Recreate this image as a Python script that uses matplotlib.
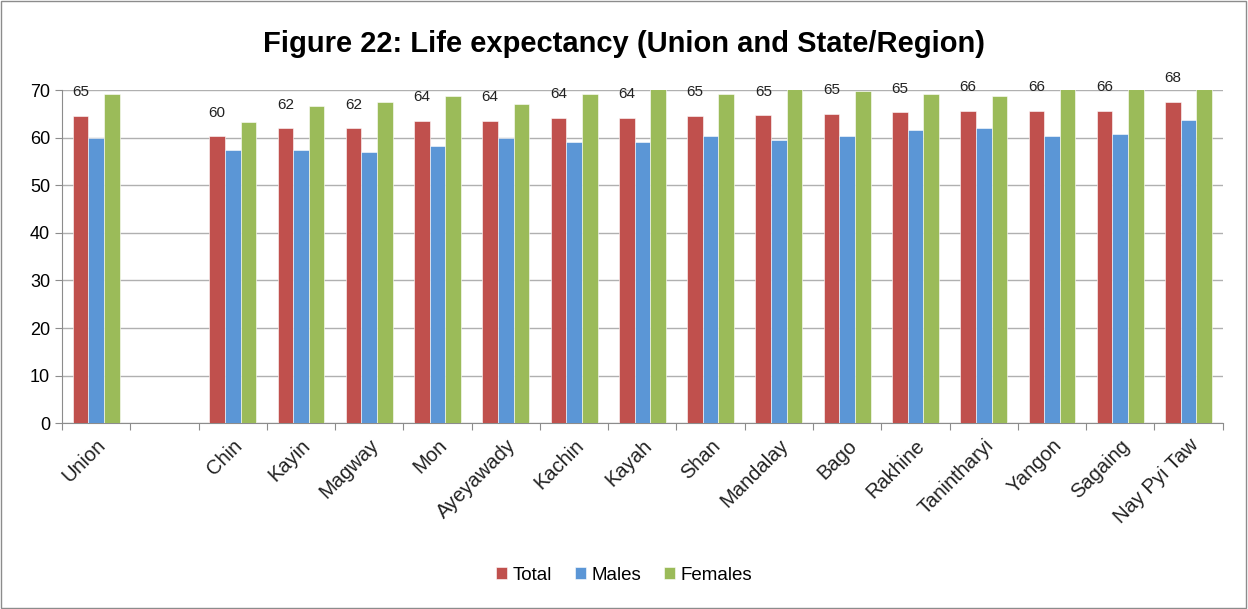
import matplotlib

matplotlib.use("Agg")
import matplotlib.pyplot as plt
import numpy as np
from matplotlib.patches import Rectangle
from matplotlib.transforms import ScaledTranslation

plt.rcParams["font.family"] = ["Liberation Sans", "DejaVu Sans"]

regions = ["Union", "", "Chin", "Kayin", "Magway", "Mon", "Ayeyawady", "Kachin", "Kayah",
           "Shan", "Mandalay", "Bago", "Rakhine", "Tanintharyi", "Yangon", "Sagaing", "Nay Pyi Taw"]
total = [64.6, np.nan, 60.3, 62.0, 62.0, 63.6, 63.6, 64.2, 64.2, 64.6, 64.7, 65.0, 65.3,
         65.6, 65.6, 65.6, 67.6]
males = [59.9, np.nan, 57.4, 57.4, 57.0, 58.3, 59.9, 59.1, 59.1, 60.4, 59.5, 60.4, 61.6,
         62.0, 60.4, 60.8, 63.7]
females = [69.2, np.nan, 63.3, 66.7, 67.5, 68.8, 67.1, 69.2, 70.4, 69.2, 70.3, 69.8, 69.2,
           68.8, 70.6, 70.8, 71.2]

RED, BLUE, GREEN = "#c0504d", "#5b96d6", "#9bbb59"

fig = plt.figure(figsize=(12.48, 6.09), dpi=100)
fig.patches.append(Rectangle((0.001, 0.002), 0.997, 0.996, transform=fig.transFigure,
                             fill=False, edgecolor="#8c8c8c", linewidth=1))
ax = fig.add_axes([0.0497, 0.305, 0.930, 0.547])

x = np.arange(len(regions))
w = 0.229
ax.bar(x - w, total, w, color=RED, edgecolor="white", linewidth=0.4, label="Total", zorder=3)
ax.bar(x, males, w, color=BLUE, edgecolor="white", linewidth=0.4, label="Males", zorder=3)
ax.bar(x + w, females, w, color=GREEN, edgecolor="white", linewidth=0.4, label="Females", zorder=3)

for xi, v in zip(x, total):
    if not np.isnan(v):
        ax.annotate(f"{v:.0f}", (xi - w, v), xytext=(0, 12), textcoords="offset points",
                    ha="center", va="bottom", fontsize=11, color="#222222")

ax.set_xlim(-0.5, len(regions) - 0.5)
ax.set_ylim(0, 70)
ax.set_yticks(range(0, 71, 10))
ax.yaxis.grid(True, color="#b0b0b0", linewidth=1)
ax.set_axisbelow(True)
ax.set_xticks(np.arange(-0.5, len(regions), 1), minor=False)
ax.set_xticklabels([])
ax.set_xticks(x, minor=True)
ax.set_xticklabels(regions, minor=True, rotation=45, ha="right", rotation_mode="anchor",
                   fontsize=14.5, color="#222222")
shift = ScaledTranslation(7 / 100, 0, fig.dpi_scale_trans)
for lbl in ax.get_xticklabels(minor=True):
    lbl.set_transform(lbl.get_transform() + shift)
ax.tick_params(axis="x", which="minor", length=0, pad=9)
ax.tick_params(axis="x", which="major", length=5, color="#8c8c8c", direction="out")
ax.tick_params(axis="y", length=5, color="#8c8c8c", labelsize=13)
for s in ["top", "right"]:
    ax.spines[s].set_visible(False)
for s in ["left", "bottom"]:
    ax.spines[s].set_color("#8c8c8c")

fig.suptitle("Figure 22: Life expectancy (Union and State/Region)", y=0.95,
             fontsize=21, fontweight="bold")
fig.legend(loc="center", bbox_to_anchor=(0.5, 0.055), ncol=3, frameon=False, fontsize=13.5,
           handlelength=0.6, handleheight=0.6, handletextpad=0.3, columnspacing=1.2)

fig.savefig("out.png", dpi=100)
